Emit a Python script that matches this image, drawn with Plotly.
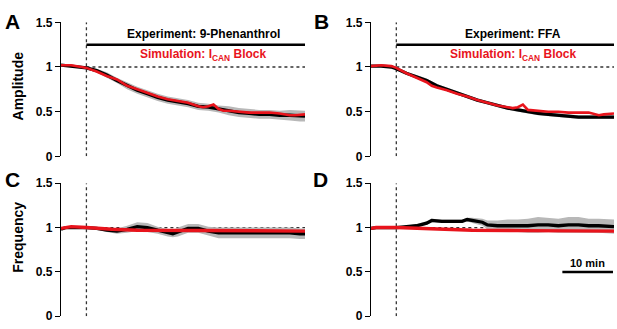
import plotly.graph_objects as go

# ---------------- data ----------------
# Panel A: Amplitude, 9-Phenanthrol
tA_exp = [-5,-3,-1,0,2,4,6,8,10,12,14,16,18,20,22,24,26,28,30,32,34,36,38,40,42,43]
A_exp  = [1.02,1.01,1.0,0.99,0.96,0.91,0.85,0.79,0.74,0.70,0.66,0.63,0.61,0.59,0.56,0.55,0.53,0.51,0.49,0.48,0.47,0.47,0.46,0.46,0.45,0.45]
A_sem  = [0.01,0.01,0.01,0.01,0.02,0.03,0.03,0.04,0.04,0.04,0.04,0.04,0.04,0.04,0.04,0.04,0.04,0.05,0.05,0.05,0.05,0.05,0.05,0.06,0.06,0.06]
tA_sim = [-5,-3,-1,0,2,4,6,7,8,10,12,14,16,18,20,22,23,24,25,26,27,28,30,32,34,36,38,40,41,43]
A_sim  = [1.02,1.02,1.0,0.99,0.95,0.90,0.86,0.82,0.79,0.75,0.71,0.67,0.64,0.62,0.60,0.56,0.55,0.56,0.58,0.53,0.51,0.51,0.50,0.49,0.49,0.49,0.48,0.46,0.46,0.47]

# Panel B: Amplitude, FFA
tB_exp = [-5,-3,-1,0,2,4,6,8,10,12,14,16,18,20,22,24,26,28,30,32,34,36,38,40,42,43]
B_exp  = [1.01,1.01,1.0,0.98,0.93,0.89,0.85,0.79,0.75,0.71,0.67,0.63,0.60,0.57,0.54,0.52,0.50,0.48,0.47,0.46,0.45,0.44,0.44,0.44,0.44,0.44]
B_sem  = [0.01,0.01,0.01,0.01,0.01,0.02,0.02,0.02,0.02,0.02,0.02,0.02,0.02,0.02,0.02,0.02,0.02,0.02,0.02,0.02,0.02,0.02,0.02,0.02,0.02,0.02]
tB_sim = [-5,-3,-1,0,2,4,6,7,8,10,12,14,16,18,20,22,23,24,25,26,28,30,32,34,36,38,40,41,43]
B_sim  = [1.01,1.02,1.01,0.99,0.93,0.88,0.83,0.79,0.77,0.74,0.70,0.67,0.63,0.60,0.57,0.55,0.54,0.55,0.58,0.52,0.51,0.50,0.50,0.49,0.49,0.49,0.46,0.47,0.48]

# Panel C: Frequency, 9-Phenanthrol
tC_exp = [-5,-4,-2,0,2,4,6,8,10,12,14,16,17,18,20,22,24,26,28,30,32,34,36,38,40,42,43]
C_exp  = [0.98,1.0,1.0,1.0,0.99,0.97,0.96,0.98,1.01,1.0,0.97,0.94,0.93,0.95,0.99,0.99,0.96,0.94,0.94,0.94,0.94,0.94,0.94,0.94,0.94,0.93,0.93]
C_sem  = [0.01,0.01,0.01,0.01,0.01,0.02,0.03,0.04,0.05,0.05,0.04,0.04,0.04,0.05,0.05,0.05,0.05,0.06,0.06,0.06,0.06,0.06,0.06,0.06,0.06,0.06,0.06]
tC_sim = [-5,-4,-3,0,5,10,20,30,43]
C_sim  = [0.99,1.0,1.01,1.0,0.98,0.97,0.965,0.96,0.96]

# Panel D: Frequency, FFA
tD_exp = [-5,-4,0,2,4,6,7,9,11,13,14,15,17,18,20,22,24,26,28,30,32,34,36,38,40,43]
D_exp  = [0.99,1.0,1.0,1.01,1.02,1.05,1.08,1.07,1.07,1.07,1.09,1.08,1.06,1.03,1.02,1.02,1.02,1.02,1.03,1.03,1.02,1.03,1.03,1.02,1.02,1.01]
D_sem  = [0.01,0.01,0.01,0.01,0.02,0.02,0.02,0.02,0.02,0.02,0.02,0.03,0.04,0.05,0.06,0.07,0.07,0.08,0.09,0.08,0.08,0.09,0.09,0.08,0.08,0.08]
tD_sim = [-5,-4,0,5,10,15,25,35,43]
D_sim  = [0.99,1.0,1.0,0.99,0.98,0.97,0.965,0.96,0.96]

onset = 0          # drug onset (min)
t_start, t_end = -5, 43
baseline = 1.0
bar_level = 1.25
scale_bar = [32.8, 42.8]   # 10 min
scale_level = 0.5

y_ticks = [0, 0.5, 1, 1.5]
y_ticklabels = ["0", "0.5", "1", "1.5"]

# ---------------- figure ----------------
W, H = 617, 329
fig = go.Figure()

panels = [
    (tA_exp, A_exp, A_sem, tA_sim, A_sim, "x", "y", 2.6),
    (tB_exp, B_exp, B_sem, tB_sim, B_sim, "x2", "y2", 2.6),
    (tC_exp, C_exp, C_sem, tC_sim, C_sim, "x3", "y3", 3.4),
    (tD_exp, D_exp, D_sem, tD_sim, D_sim, "x4", "y4", 3.4),
]

GREY = "#b8b8b8"
RED = "#e8141c"
DOT = "#333333"

for (te, ye, se, ts, ys, xa, ya, rw) in panels:
    up = [a + b for a, b in zip(ye, se)]
    lo = [a - b for a, b in zip(ye, se)]
    # reference lines
    fig.add_trace(go.Scatter(x=[onset, onset], y=[0, 1.5], mode="lines",
                             line=dict(color=DOT, width=1.3, dash="dot"),
                             xaxis=xa, yaxis=ya, showlegend=False, hoverinfo="skip"))
    fig.add_trace(go.Scatter(x=[onset, t_end], y=[baseline, baseline], mode="lines",
                             line=dict(color=DOT, width=1.3, dash="dot"),
                             xaxis=xa, yaxis=ya, showlegend=False, hoverinfo="skip"))
    fig.add_trace(go.Scatter(x=te + te[::-1], y=up + lo[::-1], fill="toself",
                             fillcolor=GREY, line=dict(width=0), mode="lines",
                             xaxis=xa, yaxis=ya, showlegend=False, hoverinfo="skip"))
    fig.add_trace(go.Scatter(x=te, y=ye, mode="lines", line=dict(color="black", width=3.3),
                             xaxis=xa, yaxis=ya, showlegend=False))
    fig.add_trace(go.Scatter(x=ts, y=ys, mode="lines", line=dict(color=RED, width=rw),
                             xaxis=xa, yaxis=ya, showlegend=False))

# experiment bars (top panels)
for xa, ya in [("x", "y"), ("x2", "y2")]:
    fig.add_trace(go.Scatter(x=[onset, t_end], y=[bar_level, bar_level], mode="lines",
                             line=dict(color="black", width=2.5),
                             xaxis=xa, yaxis=ya, showlegend=False, hoverinfo="skip"))
# scale bar
fig.add_trace(go.Scatter(x=scale_bar, y=[scale_level, scale_level], mode="lines",
                         line=dict(color="black", width=2.5),
                         xaxis="x4", yaxis="y4", showlegend=False, hoverinfo="skip"))

xl = [61 / W, 305 / W]
xr = [371 / W, 614 / W]
yt = [1 - 156 / H, 1 - 16 / H]
yb = [1 - 323 / H, 1 - 184 / H]

tickfont = dict(family="Liberation Sans, Arial, sans-serif", size=12, color="black", weight="bold")

def xaxis(dom, anchor):
    return dict(domain=dom, range=[t_start, t_end], visible=False, anchor=anchor)

def yaxis(dom, anchor):
    return dict(domain=dom, range=[0, 1.5], tickvals=y_ticks, ticktext=y_ticklabels,
                showline=True, linecolor="black", linewidth=1.4, ticks="outside",
                ticklen=5, tickwidth=1.4, tickcolor="black", showgrid=False,
                zeroline=False, tickfont=tickfont, anchor=anchor)

fig.update_layout(
    width=W, height=H, margin=dict(l=0, r=0, t=0, b=0),
    plot_bgcolor="white", paper_bgcolor="white",
    xaxis=xaxis(xl, "y"), yaxis=yaxis(yt, "x"),
    xaxis2=xaxis(xr, "y2"), yaxis2=yaxis(yt, "x2"),
    xaxis3=xaxis(xl, "y3"), yaxis3=yaxis(yb, "x3"),
    xaxis4=xaxis(xr, "y4"), yaxis4=yaxis(yb, "x4"),
)

F = "Liberation Sans, Arial, sans-serif"
ann = []
# panel letters
for txt, x, y in [("A", 3 / W, 1 - 1 / H), ("B", 312 / W, 1 - 1 / H),
                  ("C", 3 / W, 1 - 166 / H), ("D", 311 / W, 1 - 166 / H)]:
    ann.append(dict(text=txt, x=x, y=y, xref="paper", yref="paper", xanchor="left",
                    yanchor="top", showarrow=False, font=dict(family=F, size=21, color="black", weight="bold")))
# y titles
for txt, y in [("Amplitude", 1 - 83 / H), ("Frequency", 1 - 241 / H)]:
    ann.append(dict(text=txt, x=18 / W, y=y, xref="paper", yref="paper", textangle=-90,
                    xanchor="center", yanchor="middle",
                    showarrow=False, font=dict(family=F, size=14, color="black", weight="bold")))
# experiment / simulation labels
for xa, ya, label in [("x", "y", "Experiment: 9-Phenanthrol"), ("x2", "y2", "Experiment: FFA")]:
    mid = (onset + t_end) / 2 + 1.5
    ann.append(dict(text=label, x=mid, y=bar_level, xref=xa, yref=ya, yanchor="bottom",
                    yshift=2, showarrow=False,
                    font=dict(family=F, size=12, color="black", weight="bold")))
    ann.append(dict(text="Simulation: I<sub>CAN</sub> Block", x=mid, y=bar_level, xref=xa, yref=ya,
                    yanchor="top", yshift=0, showarrow=False,
                    font=dict(family=F, size=12, color=RED, weight="bold")))
ann.append(dict(text="10 min", x=sum(scale_bar) / 2, y=scale_level, xref="x4", yref="y4",
                yanchor="bottom", yshift=1, showarrow=False,
                font=dict(family=F, size=11, color="black", weight="bold")))
fig.update_layout(annotations=ann)

fig.write_html("out.html", config={"displayModeBar": False},
               post_script="document.body.style.margin='0';document.body.style.overflow='hidden';")
